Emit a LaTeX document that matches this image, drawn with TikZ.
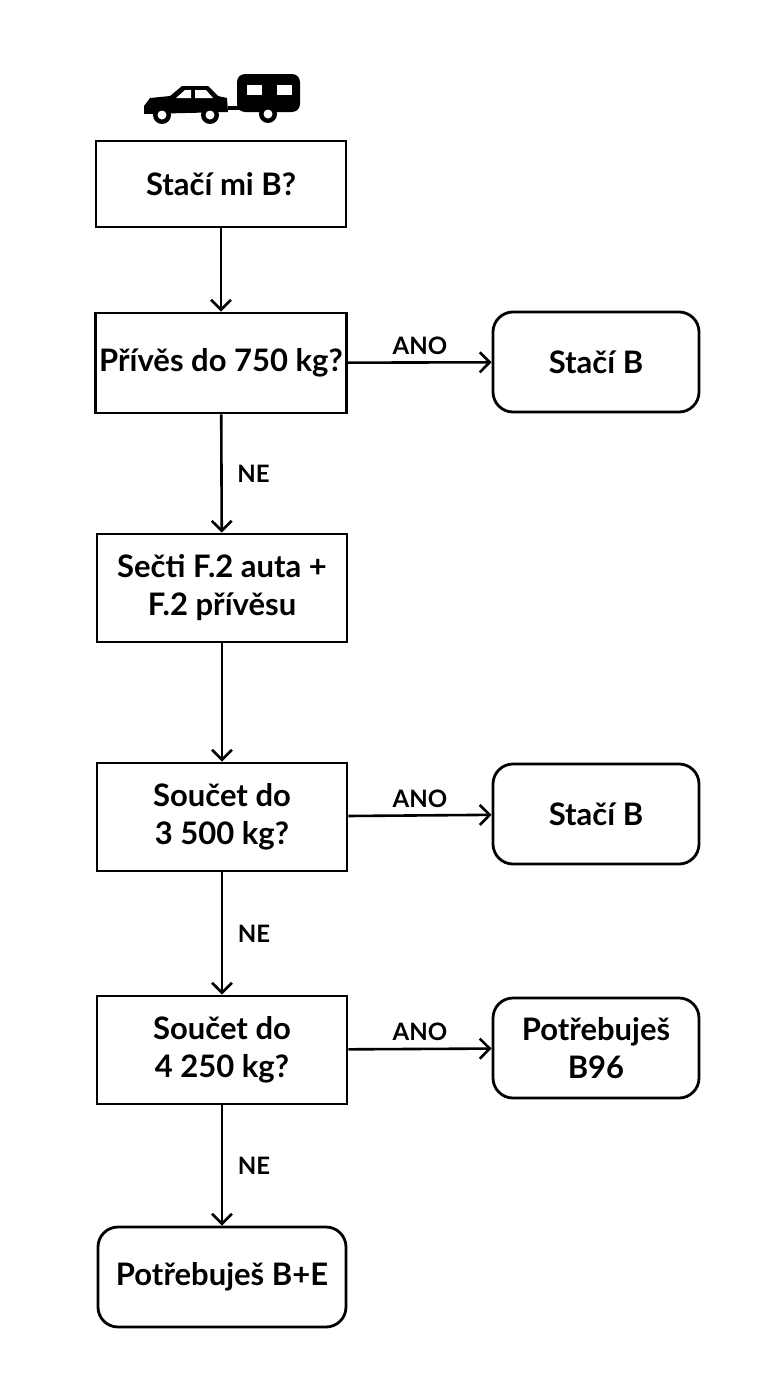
\documentclass[tikz,border=0pt]{standalone}
\usepackage{fontspec}
\setmainfont{Lato}
\usetikzlibrary{arrows.meta,positioning}
\tikzset{
    block/.style = {draw, rectangle, line width=1.4pt, minimum height=#1, minimum width=125pt, align=center, inner sep=2pt},
    block/.default = 50pt,
    result/.style = {draw, rectangle, rounded corners=10pt, line width=1.4pt, minimum height=50pt, minimum width=103pt, align=center},
    arrow/.style = {draw, line width=1.3pt, -{Straight Barb[length=5pt,width=10pt]}},
    lbl/.style = {font=\fontsize{12}{14}\selectfont\bfseries}
}
\begin{document}
\begin{tikzpicture}[x=0.5pt,y=-0.5pt,font=\fontsize{15.5}{19}\selectfont\bfseries]
        \useasboundingbox (0,0) rectangle (768,1376);
        % icon
        \fill (144,106) -- (150,98) -- (170,96) -- (182,86) -- (208,86) -- (218,96) -- (227,98) -- (228,112) -- (144,114) -- cycle;
        \fill[white] (176,98) -- (185,90) -- (191,90) -- (191,98) -- cycle;
        \fill[white] (195,90) -- (206,90) -- (213,98) -- (195,98) -- cycle;
        \draw[line width=2pt] (228,108) -- (240,108);
        \fill[rounded corners=4pt] (237,74) rectangle (300,112);
        \fill[white] (247,85) rectangle (262,95);
        \fill[white] (277,85) rectangle (292,95);
        \foreach \wx/\wy in {162/115,210/115,268/114} {
            \fill (\wx,\wy) circle (9);
            \fill[white] (\wx,\wy) circle (4.5);
        }
        % nodes
        \node [block=43pt] (start) at (221,184) {Stačí mi B?};
        \node [block] (trailer) at (221,363) {Přívěs do 750 kg?};
        \node [result] (okA) at (596,362) {Stačí B};
        \node [block=54pt] (sum) at (222,588) {Sečti F.2 auta +\\F.2 přívěsu};
        \node [block=54pt] (limA) at (222,817) {Součet do\\3 500 kg?};
        \node [result] (okB) at (596,814) {Stačí B};
        \node [block=54pt] (limB) at (222,1050) {Součet do\\4 250 kg?};
        \node [result] (bnine) at (596,1048) {Potřebuješ\\B96};
        \node [result, minimum width=124pt] (be) at (222,1277) {Potřebuješ B+E};
        % connectors
        \draw[arrow] (start) -- (trailer);
        \draw[arrow] (trailer) -- node[lbl, above]{ANO} (okA);
        \draw[arrow] (trailer) -- node[lbl, right=4pt]{NE} (sum);
        \draw[arrow] (sum) -- (limA);
        \draw[arrow] (limA) -- node[lbl, above]{ANO} (okB);
        \draw[arrow] (limA) -- node[lbl, right=4pt]{NE} (limB);
        \draw[arrow] (limB) -- node[lbl, above]{ANO} (bnine);
        \draw[arrow] (limB) -- node[lbl, right=4pt]{NE} (be);
    \end{tikzpicture}
\end{document}
